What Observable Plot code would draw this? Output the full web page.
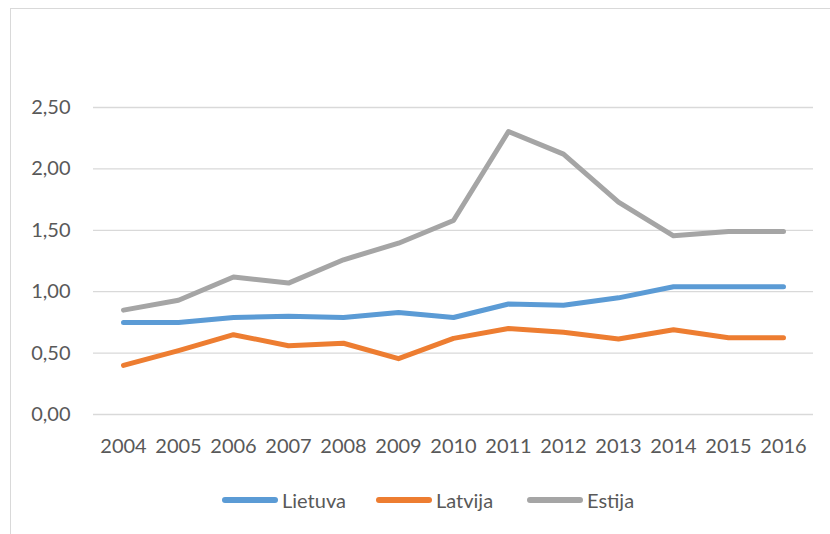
<!DOCTYPE html>
<html>
<head>
<meta charset="utf-8">
<script src="https://cdn.jsdelivr.net/npm/d3@7"></script>
<script src="https://cdn.jsdelivr.net/npm/@observablehq/plot@0.6"></script>
<style>
  html, body { margin: 0; padding: 0; background: #fff; }
  body { width: 830px; height: 534px; position: relative; overflow: hidden; font-family: Lato, "Open Sans", sans-serif; }
  #frame { position: absolute; left: 10px; top: 8px; width: 840px; height: 560px; border: 1.5px solid #d9d9d9; box-sizing: border-box; }
  #chart { position: absolute; left: 0; top: 0; }
  #legend { position: absolute; left: 0; top: 486px; width: 830px; height: 28px; }
  .item { position: absolute; top: 0; height: 28px; display: flex; align-items: center; color: #595959; font-size: 20px; }
  .sw { display: inline-block; width: 56px; height: 5.5px; border-radius: 3px; margin-right: 4px; }
</style>
</head>
<body>
<div id="frame"></div>
<div id="chart"></div>
<div id="legend"></div>
<script>
const years = ["2004","2005","2006","2007","2008","2009","2010","2011","2012","2013","2014","2015","2016"];
const lietuva = [0.75, 0.75, 0.79, 0.80, 0.79, 0.83, 0.79, 0.90, 0.89, 0.95, 1.04, 1.04, 1.04];
const latvija = [0.40, 0.52, 0.65, 0.56, 0.58, 0.455, 0.62, 0.70, 0.67, 0.615, 0.69, 0.625, 0.625];
const estija  = [0.85, 0.93, 1.12, 1.07, 1.26, 1.395, 1.58, 2.305, 2.12, 1.73, 1.455, 1.49, 1.49];
const seriesNames = ["Lietuva", "Latvija", "Estija"];
const seriesColors = ["#5B9BD5", "#ED7D31", "#A5A5A5"];
const yTicks = [0, 0.5, 1, 1.5, 2, 2.5];

const seriesValues = [lietuva, latvija, estija];
const data = [];
seriesNames.forEach((name, i) => {
  years.forEach((yr, j) => data.push({series: name, year: yr, value: seriesValues[i][j]}));
});

const fmt = d => d.toFixed(2).replace(".", ",");

const plot = Plot.plot({
  width: 830,
  height: 470,
  marginLeft: 93,
  marginRight: 17,
  marginTop: 107,
  marginBottom: 56,
  style: { fontFamily: "Lato, 'Open Sans', sans-serif", fontSize: "20px", color: "#595959", background: "transparent" },
  x: { type: "point", domain: years, padding: 0.5, label: null },
  y: { domain: [0, 2.5], label: null },
  color: { domain: seriesNames, range: seriesColors },
  marks: [
    Plot.ruleY(yTicks, { stroke: "#d9d9d9", strokeWidth: 1.3 }),
    Plot.axisY(yTicks, { tickSize: 0, tickPadding: 23, tickFormat: fmt, fontSize: 20, label: null }),
    Plot.axisX(years, { tickSize: 0, tickPadding: 24, fontSize: 20, label: null }),
    Plot.line(data, { x: "year", y: "value", z: "series", stroke: "series", strokeWidth: 5, strokeLinecap: "round", strokeLinejoin: "round" })
  ]
});
document.getElementById("chart").appendChild(plot);

const legend = document.getElementById("legend");
const lefts = [222, 376, 527];
seriesNames.forEach((name, i) => {
  const item = document.createElement("div");
  item.className = "item";
  item.style.left = lefts[i] + "px";
  const sw = document.createElement("span");
  sw.className = "sw";
  sw.style.background = seriesColors[i];
  const t = document.createElement("span");
  t.textContent = name;
  item.appendChild(sw);
  item.appendChild(t);
  legend.appendChild(item);
});
</script>
</body>
</html>
